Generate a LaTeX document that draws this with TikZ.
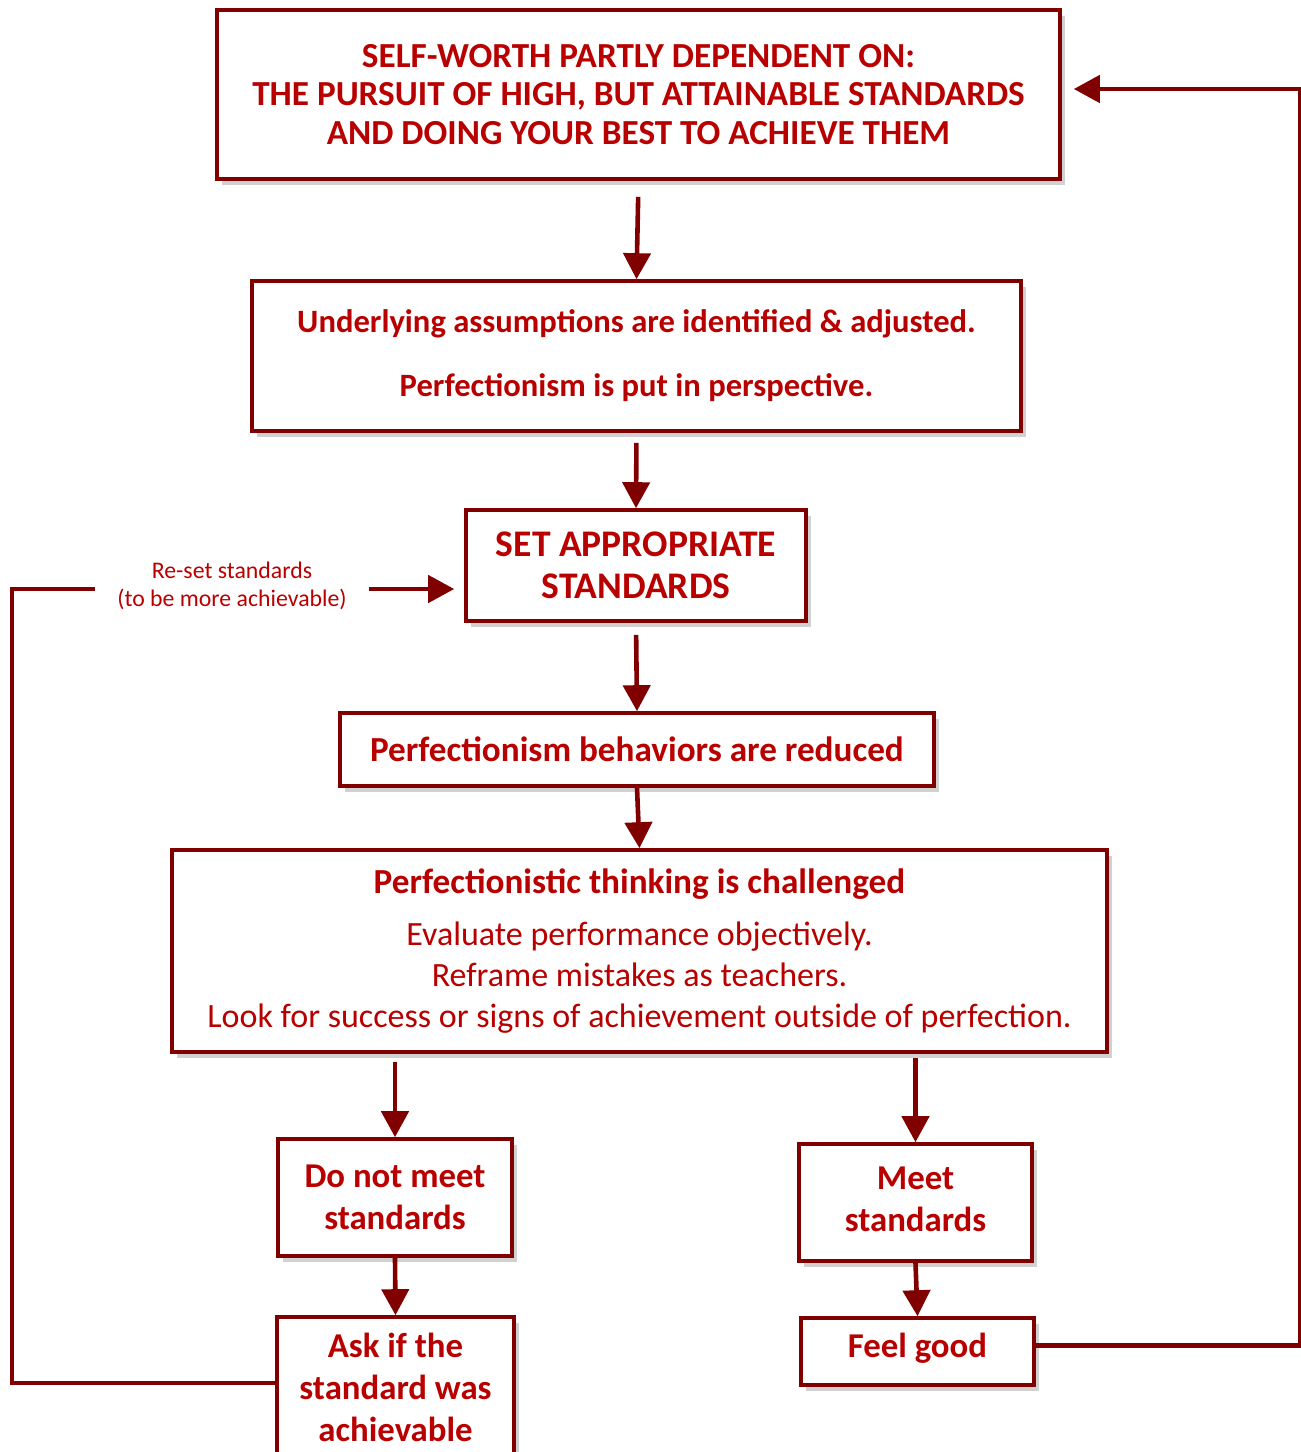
\documentclass[tikz,border=0pt]{standalone}
\usepackage{fontspec}
\setmainfont{Carlito}
\usetikzlibrary{arrows.meta,shadows}
\definecolor{frame}{RGB}{128,0,0}
\definecolor{ink}{RGB}{185,0,0}
\begin{document}
\begin{tikzpicture}[x=0.5pt,y=-0.5pt,
  box/.style={draw=frame,line width=1.8pt,fill=white,text=ink,align=center,inner sep=0pt,
    drop shadow={shadow xshift=2.5pt,shadow yshift=-3pt,fill=black,opacity=0.18}},
  link/.style={draw=frame,line width=2.3pt},
  arr/.style={link,-{Triangle[width=13.5pt,length=13pt]}}]
\useasboundingbox (0,0) rectangle (1301,1452);
\node[box,minimum width=421.5pt,minimum height=84.5pt,font=\fontsize{17.6}{19.3}\selectfont\bfseries] (worth) at (638.5,94.5)
  {SELF-WORTH PARTLY DEPENDENT ON:\\THE PURSUIT OF HIGH, BUT ATTAINABLE STANDARDS\\AND DOING YOUR BEST TO ACHIEVE THEM};
\node[box,minimum width=384.5pt,minimum height=75pt,font=\fontsize{16.3}{16}\selectfont\bfseries] (assume) at (636.5,356)
  {Underlying assumptions are identified \& adjusted.\\[16pt]Perfectionism is put in perspective.};
\node[box,minimum width=170pt,minimum height=55.5pt,font=\fontsize{18.8}{21}\selectfont\bfseries] (setstd) at (636,565.5)
  {SET APPROPRIATE\\STANDARDS};
\node[box,minimum width=297pt,minimum height=36.5pt,font=\fontsize{17.6}{19}\selectfont\bfseries] (reduce) at (637,749.5)
  {Perfectionism behaviors are reduced};
\node[box,minimum width=467.5pt,minimum height=101pt,font=\fontsize{17}{20.5}\selectfont] (challenge) at (639.5,951)
  {\raisebox{2.5pt}{\fontsize{17.6}{20.5}\selectfont\bfseries Perfectionistic thinking is challenged}\\[5.5pt]
   \raisebox{2.5pt}{Evaluate performance objectively.}\\\raisebox{2.5pt}{Reframe mistakes as teachers.}\\
   \raisebox{2.5pt}{Look for success or signs of achievement outside of perfection.}};
\node[box,minimum width=117pt,minimum height=58.5pt,font=\fontsize{17.4}{21}\selectfont\bfseries] (notmeet) at (395,1197.5)
  {Do not meet\\standards};
\node[box,minimum width=118.5pt,minimum height=71.5pt,font=\fontsize{17.4}{21}\selectfont\bfseries] (ask) at (395.5,1388.5)
  {\raisebox{1.5pt}{Ask if the}\\\raisebox{1.5pt}{standard was}\\\raisebox{1.5pt}{achievable}};
\node[box,minimum width=116.5pt,minimum height=58.5pt,font=\fontsize{17.4}{21}\selectfont\bfseries] (meet) at (915.5,1202.5)
  {\raisebox{3pt}{Meet}\\\raisebox{3pt}{standards}};
\node[box,minimum width=116.5pt,minimum height=33.5pt,font=\fontsize{17.4}{21}\selectfont\bfseries] (good) at (917.5,1351.5)
  {\raisebox{6pt}{Feel good}};
\node[text=ink,align=center,minimum width=137pt,inner sep=0pt,font=\fontsize{11.9}{14}\selectfont] (reset) at (232,586)
  {Re-set standards\\(to be more achievable)};
\draw[arr,shorten <=8pt] (worth.south) -- (assume.north);
\draw[arr,shorten <=5pt] (assume.south) -- (setstd.north);
\draw[arr,shorten <=6pt] (setstd.south) -- (reduce.north);
\draw[arr] (reduce.south) -- (challenge.north);
\draw[arr,shorten <=4pt] (challenge.south -| notmeet.north) -- (notmeet.north);
\draw[arr,shorten <=2pt] (challenge.south -| meet.north) -- (meet.north);
\draw[arr] (notmeet.south) -- (ask.north);
\draw[arr] (meet.south) -- (good.north);
\draw[arr,shorten >=6pt] ([yshift=3pt]good.east) -- ++(264,0) |- ([yshift=2.75pt]worth.east);
\draw[link] ([yshift=2.75pt]ask.west) -| (12,589) -- (reset.west |- 0,589);
\draw[arr,shorten >=5pt] (reset.east |- 0,589) -- (setstd.west |- 0,589);
\end{tikzpicture}
\end{document}
